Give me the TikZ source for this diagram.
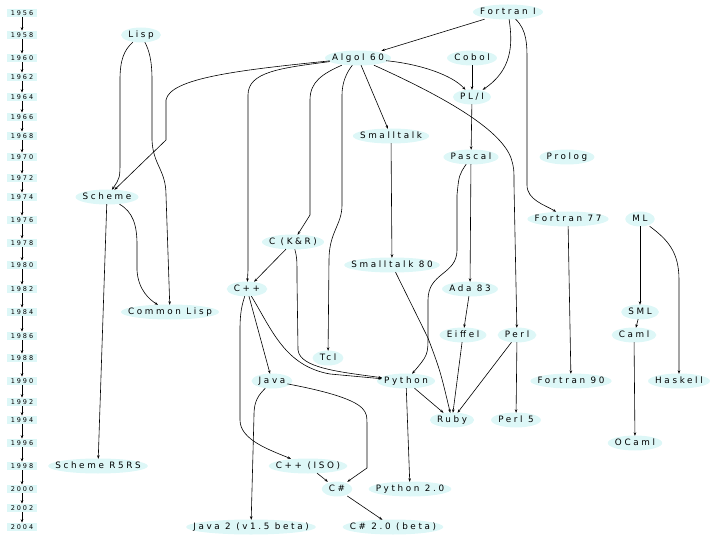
\documentclass[tikz,border=0pt]{standalone}
\usepackage{fontspec}
\setmainfont{DejaVu Sans}[LetterSpace=30]
\usetikzlibrary{arrows.meta,calc}
\definecolor{LangCyan}{HTML}{DDF7F7}
\pgfdeclarelayer{background}
\pgfsetlayers{background,main}
\tikzset{
  lang/.style={inner xsep=2pt, inner ysep=3pt, text height=6.5pt, text depth=1.5pt,
    font=\fontsize{8.8}{10}\selectfont},
  yearbox/.style={fill=LangCyan, inner xsep=4pt, inner ysep=1.5pt, text height=4.8pt,
    text depth=0.5pt, font=\fontsize{6.5}{7}\selectfont},
  link/.style={-{Stealth[length=3.5pt,width=2.6pt]}, line width=0.6pt},
}

\begin{document}
\begin{tikzpicture}[x=1pt,y=-1pt]
    \useasboundingbox (0,0) rectangle (720,540);

    % time line
    \foreach \yr/\yy in {1956/13,1958/35,1960/58,1962/77,1964/97,1966/117,1968/136,
        1970/157,1972/178,1974/197,1976/220,1978/243,1980/265,1982/289,1984/312,
        1986/336,1988/358,1990/381,1992/402,1994/420,1996/443,1998/466,2000/489,
        2002/508,2004/527}
      \node[yearbox] (y\yr) at (22,\yy) {\yr};
    \foreach \yr [remember=\yr as \prev (initially 1956)] in {1958,1960,...,2004}
      \draw[link] (y\prev) -- (y\yr);

    % languages
    \node[lang] (fortranI)    at (508,12)  {Fortran I};
    \node[lang] (lisp)        at (141,35)  {Lisp};
    \node[lang] (algol)       at (358,58)  {Algol 60};
    \node[lang] (cobol)       at (472,58)  {Cobol};
    \node[lang] (pli)         at (472,97)  {PL/I};
    \node[lang] (smalltalk)   at (391,136) {Smalltalk};
    \node[lang] (pascal)      at (471,157) {Pascal};
    \node[lang] (prolog)      at (567,157) {Prolog};
    \node[lang] (scheme)      at (107,197) {Scheme};
    \node[lang] (fortranSS)   at (568,219) {Fortran 77};
    \node[lang] (ml)          at (640,219) {ML};
    \node[lang] (ckr)         at (293,242) {C (K\&R)};
    \node[lang] (smalltalkEO) at (392,265) {Smalltalk 80};
    \node[lang] (cpp)         at (247,289) {C++};
    \node[lang] (ada)         at (470,289) {Ada 83};
    \node[lang] (commonlisp)  at (170,312) {Common Lisp};
    \node[lang] (sml)         at (640,312) {SML};
    \node[lang] (eiffel)      at (463,335) {Eiffel};
    \node[lang] (perl)        at (517,335) {Perl};
    \node[lang] (caml)        at (634,335) {Caml};
    \node[lang] (tcl)         at (328,358) {Tcl};
    \node[lang] (java)        at (272,381) {Java};
    \node[lang] (python)      at (406,381) {Python};
    \node[lang] (fortranNO)   at (571,381) {Fortran 90};
    \node[lang] (haskell)     at (679,381) {Haskell};
    \node[lang] (ruby)        at (452,420) {Ruby};
    \node[lang] (perlF)       at (516,420) {Perl 5};
    \node[lang] (ocaml)       at (635,443) {OCaml};
    \node[lang] (schemeR)     at (98,466)  {Scheme R5RS};
    \node[lang] (cppiso)      at (308,466) {C++ (ISO)};
    \node[lang] (csharp)      at (337,489) {C\#};
    \node[lang] (pythonT)     at (410,489) {Python 2.0};
    \node[lang] (javaT)       at (251,527) {Java 2 (v1.5 beta)};
    \node[lang] (csharpT)     at (393,527) {C\# 2.0 (beta)};

    % soft ellipses behind the names
    \begin{pgfonlayer}{background}
      \foreach \nd in {fortranI,lisp,algol,cobol,pli,smalltalk,pascal,prolog,scheme,
          fortranSS,ml,ckr,smalltalkEO,cpp,ada,commonlisp,sml,eiffel,perl,caml,tcl,
          java,python,fortranNO,haskell,ruby,perlF,ocaml,schemeR,cppiso,csharp,
          pythonT,javaT,csharpT}
        \fill[LangCyan] let \p1=($(\nd.east)-(\nd.west)$) in
          (\nd.center) ellipse [x radius={0.5*\x1+5pt}, y radius=7.5pt];
    \end{pgfonlayer}

    % influences
    \draw[link] (fortranI) -- (algol);
    \draw[link] (fortranI) .. controls (513,45) and (512,70) .. (pli);
    \draw[link] (fortranI) .. controls (527,30) and (527,45) .. (527,60)
      -- (527,185) .. controls (527,200) and (545,205) .. (fortranSS);
    \draw[link] (lisp) .. controls (124,50) and (120,60) .. (120,80)
      -- (120,160) .. controls (120,178) .. (scheme);
    \draw[link] (lisp) .. controls (149,50) and (152,60) .. (152,80)
      -- (152,140) .. controls (153,165) and (166,170) .. (166,195) -- (commonlisp);
    \draw[link] (algol) .. controls (240,70) and (170,78) .. (166,100)
      -- (166,140) -- (scheme);
    \draw[link] (algol) .. controls (280,68) and (248,72) .. (248,95) -- (248,270) -- (cpp);
    \draw[link] (algol) .. controls (322,74) and (310,82) .. (310,100) -- (310,215) -- (ckr);
    \draw[link] (algol) .. controls (347,72) and (342,82) .. (342,95) -- (342,205)
      .. controls (342,225) and (329,232) .. (329,260) -- (tcl);
    \draw[link] (algol) -- (smalltalk);
    \draw[link] (algol) .. controls (420,64) and (452,75) .. (pli);
    \draw[link] (algol) .. controls (440,95) and (500,128) .. (511,158)
      .. controls (514,168) .. (514,185) -- (perl);
    \draw[link] (cobol) -- (pli);
    \draw[link] (pli) -- (pascal);
    \draw[link] (pascal) -- (ada);
    \draw[link] (pascal) .. controls (459,175) .. (457,195) -- (457,250)
      .. controls (457,275) and (428,272) .. (428,300) -- (428,335)
      .. controls (428,355) .. (python);
    \draw[link] (smalltalk) -- (smalltalkEO);
    \draw[link] (smalltalkEO) -- (428,338) .. controls (440,370) .. (ruby);
    \draw[link] (ada) -- (eiffel);
    \draw[link] (eiffel) -- (ruby);
    \draw[link] (perl) -- (ruby);
    \draw[link] (perl) -- (perlF);
    \draw[link] (python) -- (ruby);
    \draw[link] (python) -- (pythonT);
    \draw[link] (ml) -- (sml);
    \draw[link] (ml) .. controls (668,240) and (679,252) .. (679,280) -- (haskell);
    \draw[link] (sml) -- (caml);
    \draw[link] (caml) -- (ocaml);
    \draw[link] (fortranSS) -- (fortranNO);
    \draw[link] (ckr) -- (cpp);
    \draw[link] (ckr) .. controls (297,258) .. (297,280) -- (298,350)
      .. controls (300,368) and (340,372) .. (python);
    \draw[link] (cpp) -- (java);
    \draw[link] (cpp) .. controls (272,330) and (285,366) .. (330,374) -- (python);
    \draw[link] (cpp) .. controls (242,305) and (240,312) .. (240,330) -- (240,420)
      .. controls (240,440) and (270,450) .. (cppiso);
    \draw[link] (java) .. controls (259,395) and (254,400) .. (254,415) -- (javaT);
    \draw[link] (java) .. controls (320,390) and (352,398) .. (362,408)
      .. controls (367,414) .. (367,430) -- (367,468) -- (csharp);
    \draw[link] (cppiso) -- (csharp);
    \draw[link] (csharp) -- (csharpT);
    \draw[link] (scheme) -- (schemeR);
    \draw[link] (scheme) .. controls (133,212) and (137,225) .. (137,245) -- (137,270)
      .. controls (138,290) and (150,300) .. (commonlisp);
  \end{tikzpicture}
\end{document}
